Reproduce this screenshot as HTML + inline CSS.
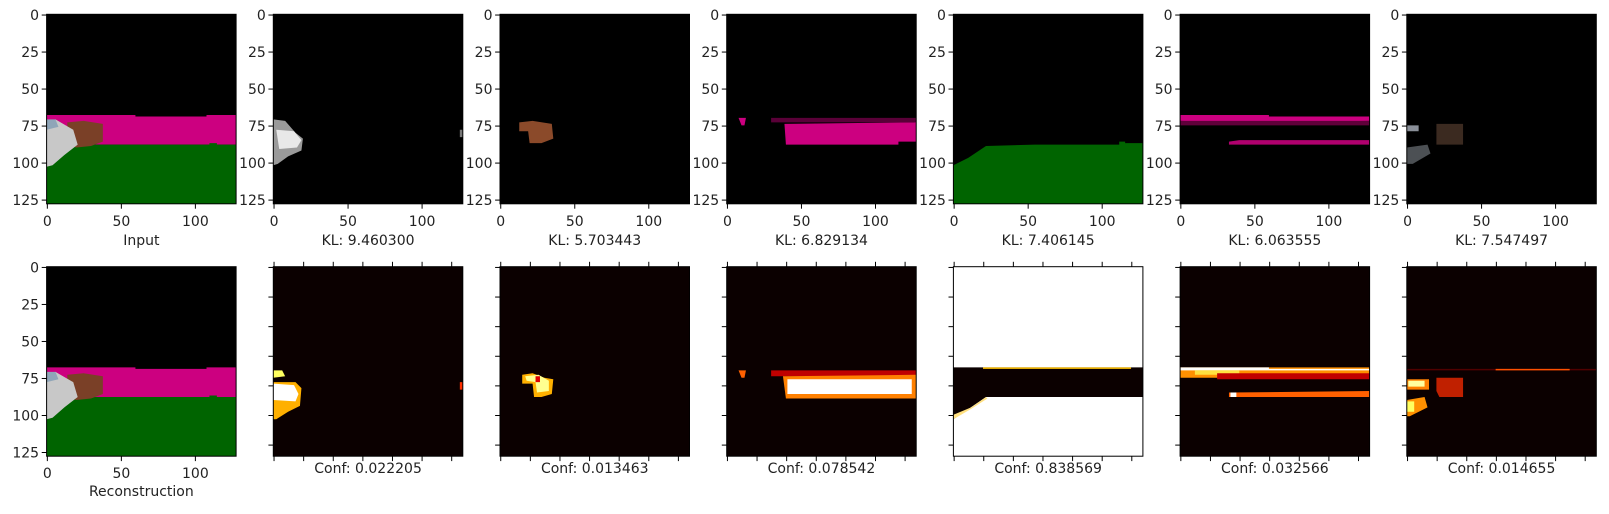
<!DOCTYPE html>
<html><head><meta charset="utf-8"><style>
html,body{margin:0;padding:0;background:#fff;}
svg text{font-family:"DejaVu Sans","Liberation Sans",sans-serif;font-size:14px;fill:#222;}
</style></head><body>
<svg id="fig" width="1609" height="509" viewBox="0 0 1609 509" xmlns="http://www.w3.org/2000/svg"></svg>
<script>
// ---- data ----
const klLabels = ["Input","KL: 9.460300","KL: 5.703443","KL: 6.829134","KL: 7.406145","KL: 6.063555","KL: 7.547497"];
const confLabels = ["Reconstruction","Conf: 0.022205","Conf: 0.013463","Conf: 0.078542","Conf: 0.838569","Conf: 0.032566","Conf: 0.014655"];
const rgbTicks = [0,25,50,75,100,125];
const rgbXTicks = [0,50,100];
const heatTicks = [0,20,40,60,80,100,120];
const scene = [
  ["#cc0080",[[0,68],[60,68],[60,69],[108,69],[108,68],[128,68],[128,88],[0,88]]],
  ["#006400",[[0,103],[10,96],[20,88],[110,88],[110,87],[115,87],[115,88],[128,88],[128,128],[0,128]]],
  ["#7a4027",[[14,73],[25,72],[38,74],[38,86],[30,89],[20,90],[14,88]]],
  ["#c8c8c8",[[0,72],[6,71],[18,78],[21,88],[12,95],[4,102],[0,103]]],
  ["#8fa5b8",[[0,71],[6,71],[8,76],[0,78]]]
];
const panels = [
  [["#9a9a9a",[[0,71],[8,72],[15,80],[20,84],[19,92],[10,96],[3,101],[0,102]]],["#e8e8e8",[[2,78],[14,79],[19,85],[16,90],[4,91]]],["#777",[[126,78],[128,78],[128,83],[126,83]]]],
  [["#8b4a2a",[[13,73],[22,72],[35,74],[36,84],[28,87],[20,87],[19,79],[13,79]]]],
  [["#cc0080",[[39,74],[127,73],[128,71],[128,86],[116,86],[116,88],[40,88]]],["#5a0038",[[30,70],[128,70],[128,73],[30,73]]],["#cc0080",[[8,70],[13,70],[12,75],[10,75]]]],
  [["#006400",[[0,102],[10,97],[22,89],[55,88],[112,88],[112,86],[116,86],[116,87],[128,87],[128,128],[0,128]]]],
  [["#cc0080",[[0,68],[60,68],[60,69],[128,69],[128,72],[40,73],[0,72]]],["#60003a",[[0,72],[128,72],[128,75],[0,75]]],["#b0006e",[[33,86],[40,85],[128,85],[128,88],[33,88]]]],
  [["#8a8f98",[[0,75],[8,75],[8,79],[0,79]]],["#3b2a20",[[20,74],[38,74],[38,88],[20,88]]],["#4c5054",[[0,90],[14,88],[16,94],[4,101],[0,101]]]]
];
const heat = [
  [["#ffff60",[[0,70],[6,70],[8,74],[0,75]]],["#ffb000",[[0,78],[15,78],[19,82],[18,94],[10,98],[2,103],[0,103]]],["#ffffff",[[0,79],[14,80],[17,86],[15,91],[0,90]]],["#ff3000",[[126,78],[128,78],[128,83],[126,83]]]],
  [["#ffb000",[[15,73],[22,72],[30,75],[36,76],[35,86],[28,88],[23,88],[22,79],[15,79]]],["#ffff90",[[17,74],[26,73],[33,77],[33,84],[25,85],[24,78],[18,77]]],["#e00000",[[24,74],[27,74],[27,78],[24,78]]]],
  [["#c00000",[[30,70],[128,70],[128,74],[30,74]]],["#ff8000",[[38,74],[128,73],[128,89],[40,89]]],["#ffffff",[[41,76],[125,76],[125,86],[41,86]]],["#ff6000",[[8,70],[13,70],[12,75],[10,75]]]],
  [["#ffffff",[[0,0],[128,0],[128,128],[0,128]]],["#0b0000",[[0,68],[128,68],[128,88],[22,88],[0,103]]],["#ffc000",[[20,68],[120,68],[120,69],[20,69]]],["#ffe080",[[0,100],[12,95],[22,88],[23,89],[12,96],[0,103]]]],
  [["#ff9000",[[0,68],[128,68],[128,75],[0,75]]],["#ffffff",[[0,68],[60,68],[60,69],[128,69],[128,70],[0,70]]],["#ffe040",[[10,70],[40,70],[40,73],[10,73]]],["#c00000",[[25,72],[128,72],[128,76],[25,76]]],["#ff6000",[[33,85],[128,84],[128,88],[33,88]]],["#ffffff",[[34,85],[38,85],[38,88],[34,88]]]],
  [["#500000",[[0,69],[128,69],[128,70],[0,70]]],["#ff5000",[[60,69],[110,69],[110,70],[60,70]]],["#ff8000",[[0,76],[15,76],[15,83],[0,83]]],["#ffffa0",[[1,77],[12,77],[12,81],[1,81]]],["#c02000",[[20,75],[38,75],[38,88],[22,88],[20,84]]],["#ff9000",[[0,90],[12,88],[14,95],[2,101],[0,101]]],["#ffff60",[[0,91],[5,91],[5,98],[0,98]]]]
];
const L0=46.6, DX=226.7, W=189.5, TOPS=[14.3,266.7];
const sc=W/128;
const NS="http://www.w3.org/2000/svg";
const fig=document.getElementById('fig');
function el(t,a,p){const e=document.createElementNS(NS,t);for(const k in a)e.setAttribute(k,a[k]);(p||fig).appendChild(e);return e;}
function xpos(i,v){return L0+DX*i+(v+0.5)*sc;}
function ypos(r,v){return TOPS[r]+(v+0.5)*sc;}
function drawImg(r,i,bg,shapes,name){
  const s=el('svg',{x:L0+DX*i,y:TOPS[r],width:W,height:W,viewBox:"0 0 128 128",preserveAspectRatio:"none"});
  
  
  el('rect',{x:0,y:0,width:128,height:128,fill:bg},s);
  for(const sh of shapes){
    const p=el('polygon',{points:sh[1].map(q=>q.join(',')).join(' '),fill:sh[0]},s);
    
    
  }
  const f=el('rect',{x:L0+DX*i,y:TOPS[r],width:W,height:W,fill:"none",stroke:"#000","stroke-width":1});
  
  
}
function labelledAxes(r,i){
  for(const v of rgbTicks){const y=ypos(r,v);
    el('line',{x1:L0+DX*i-4.9,x2:L0+DX*i,y1:y,y2:y,stroke:"#000"});
    const t=el('text',{x:L0+DX*i-7.5,y:y+5,"text-anchor":"end"});t.textContent=v;
    
    }
  for(const v of rgbXTicks){const x=xpos(i,v),b=TOPS[r]+W;
    el('line',{x1:x,x2:x,y1:b,y2:b+4.9,stroke:"#000"});
    const t=el('text',{x:x,y:b+22,"text-anchor":"middle"});t.textContent=v;
    
    }
}
function bareAxes(r,i){
  const l=L0+DX*i,tp=TOPS[r],b=tp+W;
  for(const v of heatTicks){const x=xpos(i,v),y=ypos(r,v);
    el('line',{x1:x,x2:x,y1:b,y2:b+4.9,stroke:"#000"});
    el('line',{x1:x,x2:x,y1:tp-4.9,y2:tp,stroke:"#000"});
    el('line',{x1:l-4.9,x2:l,y1:y,y2:y,stroke:"#000"});}
}
for(let i=0;i<7;i++){
  if(i===0) drawImg(0,0,"#000",scene,'input-image'); else drawImg(0,i,"#000",panels[i-1],'latent-image-'+i);
  labelledAxes(0,i);
  const t=el('text',{x:L0+DX*i+W/2,y:245,"text-anchor":"middle"});t.textContent=klLabels[i];
  
  
  if(i===0){drawImg(1,0,"#000",scene,'reconstruction-image');labelledAxes(1,0);}
  else {drawImg(1,i,"#0b0000",heat[i-1],'confidence-map-'+i);bareAxes(1,i);}
  const c=el('text',{x:L0+DX*i+W/2,y:i===0?496:473,"text-anchor":"middle"});c.textContent=confLabels[i];
  
  
}
</script>
</body></html>
